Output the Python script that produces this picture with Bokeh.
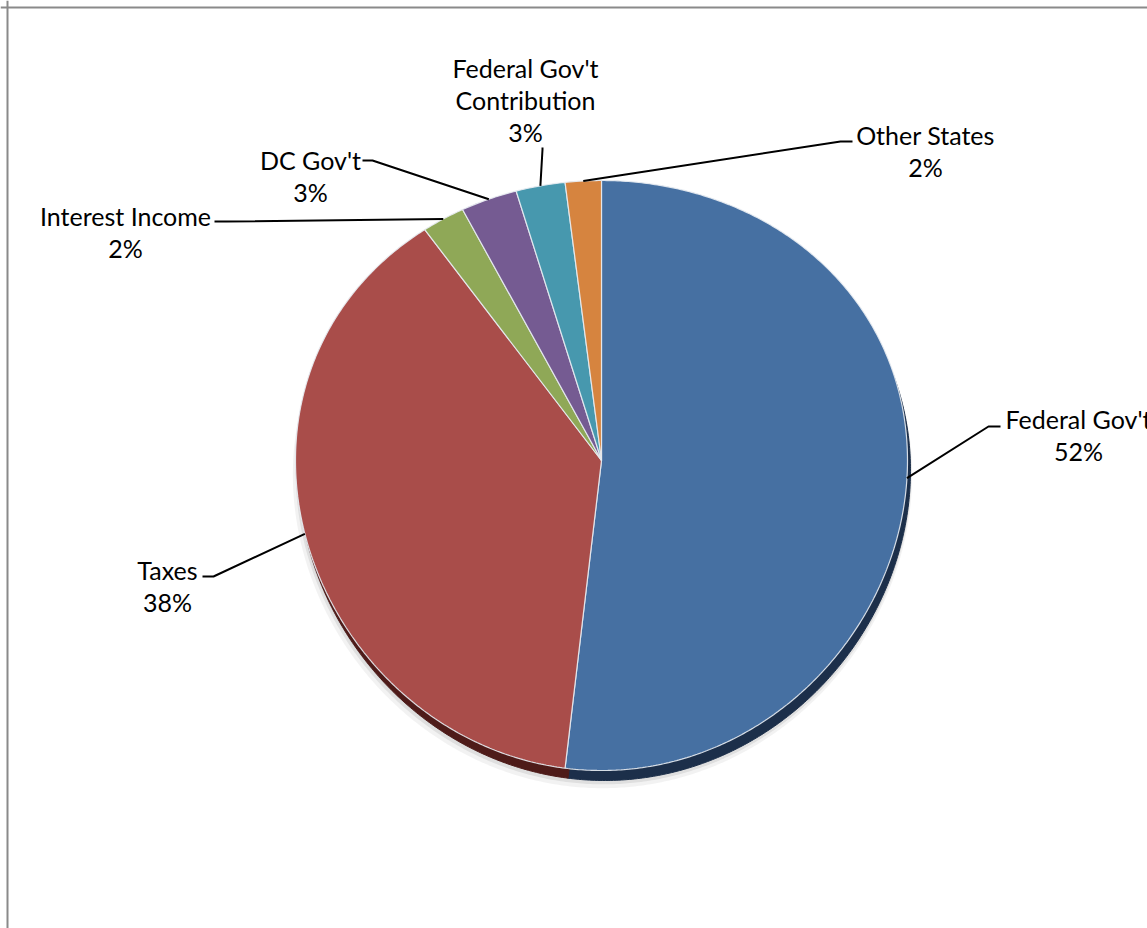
import math
from bokeh.plotting import figure
from bokeh.models import Range1d, Span
from bokeh.embed import file_html
from bokeh.resources import INLINE
from bokeh.core.properties import value

# ---------------- data ----------------
categories = ["Federal Gov't", "Taxes", "Interest Income", "DC Gov't",
              "Federal Gov't Contribution", "Other States"]
shares = [51.9, 38.3, 2.3, 3.0, 2.6, 1.9]
display_names = ["Federal Gov't", "Taxes", "Interest Income", "DC Gov't",
                 "Federal Gov't\nContribution", "Other States"]
colors = ["#4670a2", "#a94d4a", "#8fa857", "#755b92", "#4798ae", "#d6843f"]
rim_colors = ["#1c2f4a", "#4e1b19", "#4f5e2c", "#3e2f50", "#22505c", "#7a4620"]

# ---------------- layout (pixel space of the picture) ----------------
W, H = 1147, 928
CX, CY = 601.0, 460.0
RX = 306.0
RY_MID, RY_TILT = 295.0, 15.0
RIM_DX, RIM_DY = 3.0, 10.0
LINE_GAP = 32.0
# label: (text centre x, first line centre y, leader start, elbow)
label_layout = [
    (1078, 418, (1000, 426), (988, 426)),
    (167, 569, (202, 576), (213, 576)),
    (125, 215, (214, 221), (226, 221)),
    (310, 159, (362, 160), (372, 160)),
    (525, 67, (542, 147), (542, 149)),
    (925, 134, (852, 141), (840, 141)),
]


def edge(theta, dx=0.0, dy=0.0, scale=1.0):
    ry = RY_MID - RY_TILT * math.cos(theta)
    return (CX + dx + RX * scale * math.sin(theta),
            CY + dy - ry * scale * math.cos(theta))


total = sum(shares)
bounds = []
acc = 0.0
for s in shares:
    a0 = acc / total * 2 * math.pi
    acc += s
    a1 = acc / total * 2 * math.pi
    bounds.append((a0, a1))


def wedge_poly(a0, a1, dx=0.0, dy=0.0, scale=1.0):
    n = max(4, int(math.degrees(a1 - a0) / 0.5))
    xs, ys = [CX + dx], [CY + dy]
    for i in range(n + 1):
        t = a0 + (a1 - a0) * i / n
        x, y = edge(t, dx, dy, scale)
        xs.append(x)
        ys.append(y)
    return xs, ys


p = figure(width=W, height=H, x_range=Range1d(0, W), y_range=Range1d(H, 0),
           output_backend="svg", toolbar_location=None, min_border=0)
p.axis.visible = False
p.grid.visible = False
p.outline_line_color = None
p.background_fill_color = "white"

# frame border (left & top visible)
p.add_layout(Span(location=7, dimension="height", line_color="#8a8a8a", line_width=2))
p.add_layout(Span(location=7, dimension="width", line_color="#8a8a8a", line_width=2))

# soft shadow
for ox, oy, sc, alpha in [(1, 14, 1.012, 0.05), (2, 12, 1.006, 0.08), (2, 10, 1.0, 0.12)]:
    sx, sy = wedge_poly(0, 2 * math.pi, dx=ox, dy=oy, scale=sc)
    p.patch(sx[1:], sy[1:], fill_color="#000000", fill_alpha=alpha, line_color=None)

# 3D rim
rxs, rys = [], []
for (a0, a1) in bounds:
    xs, ys = wedge_poly(a0, a1, dx=RIM_DX, dy=RIM_DY)
    rxs.append(xs)
    rys.append(ys)
p.patches(rxs, rys, fill_color=rim_colors, line_color=rim_colors, line_width=1)

# top surface
txs, tys = [], []
for (a0, a1) in bounds:
    xs, ys = wedge_poly(a0, a1)
    txs.append(xs)
    tys.append(ys)
p.patches(txs, tys, fill_color=colors, line_color="#e8ecf2", line_width=1.2, line_alpha=0.9)

# leader lines & labels
text_x, text_y, texts = [], [], []
for i, name in enumerate(categories):
    a0, a1 = bounds[i]
    mid = (a0 + a1) / 2
    ax, ay = edge(mid)
    tx, ty, start, elbow = label_layout[i]
    p.line([start[0], elbow[0], ax], [start[1], elbow[1], ay],
           line_color="black", line_width=2)
    pct = "%d%%" % int(round(shares[i] / total * 100))
    lines = display_names[i].split("\n") + [pct]
    for k, ln in enumerate(lines):
        text_x.append(tx)
        text_y.append(ty + k * LINE_GAP)
        texts.append(ln)

p.text(x=text_x, y=text_y, text=texts, text_align="center", text_baseline="middle",
       text_font=value("Lato"), text_font_size=value("25px"), text_color="#000000")

open("out.html", "w").write(file_html(p, INLINE))
